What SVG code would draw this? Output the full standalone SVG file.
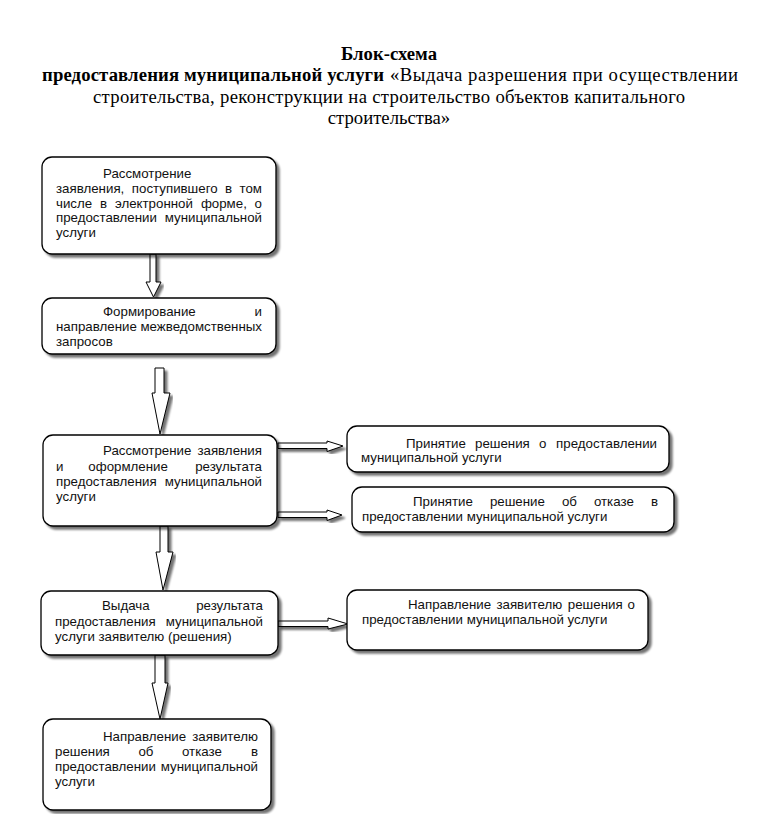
<svg xmlns="http://www.w3.org/2000/svg" width="759" height="814" viewBox="0 0 759 814">
<defs>
<filter id="sh" x="-10%" y="-10%" width="125%" height="130%">
<feGaussianBlur in="SourceAlpha" stdDeviation="1.2"/>
<feOffset dx="2.5" dy="2.5" result="o"/>
<feComponentTransfer><feFuncA type="linear" slope="0.55"/></feComponentTransfer>
<feMerge><feMergeNode/><feMergeNode in="SourceGraphic"/></feMerge>
</filter>
</defs>
<style>
.box{fill:#fff;stroke:#000;stroke-width:1.3;filter:url(#sh)}
.arr{fill:#fff;stroke:#000;stroke-width:1;filter:url(#sh)}
.t{font-family:"Liberation Sans",Arial,sans-serif;font-size:13.3px;fill:#111}
.e{text-anchor:end}
.h{font-family:"Liberation Serif","Times New Roman",serif;font-size:18.7px;fill:#000}
.b{font-weight:bold}
.c{text-anchor:middle}
</style>
<rect width="759" height="814" fill="#fff"/>
<g id="title">
<text class="h b c" x="389" y="60">Блок-схема</text>
<text class="h b" x="42" y="81" textLength="342" lengthAdjust="spacing">предоставления муниципальной услуги</text>
<text class="h" x="390" y="81" textLength="348" lengthAdjust="spacing">«Выдача разрешения при осуществлении</text>
<text class="h c" x="389" y="103" textLength="592" lengthAdjust="spacing">строительства, реконструкции на строительство объектов капитального</text>
<text class="h c" x="389" y="124">строительства»</text>
</g>
<g id="connectors">
<polygon class="arr" points="150,254 156,254 156,282 161,282 153.5,297 146,282 150,282"/>
<polygon class="arr" points="155,368 164,368 164,393 170,393 160,434 152,393 155,393"/>
<polygon class="arr" points="160,526 168,526 168,552 173,552 163,590 156,552 160,552"/>
<polygon class="arr" points="155,655 165,655 165,683 168,683 160,719 152,683 155,683"/>
<polygon class="arr" points="278,443 327,443 327,441 343,446 327,451.5 327,448.5 278,448.5"/>
<polygon class="arr" points="278,512 327,512 327,510 342,515 327,520.5 327,517.5 278,517.5"/>
<polygon class="arr" points="278,621 328,621 328,618 348,624 328,629 328,626.5 278,626.5"/>
</g>
<g id="n1">
<rect class="box" x="42" y="157" width="234" height="97" rx="10"/>
<text class="t" x="103" y="178">Рассмотрение</text>
<text class="t" y="193"><tspan x="56">заявления,</tspan><tspan x="131.8">поступившего</tspan><tspan x="225">в</tspan></text>
<text class="t e" x="262" y="193">том</text>
<text class="t" y="208"><tspan x="56">числе</tspan><tspan x="100">в</tspan><tspan x="114.9">электронной</tspan><tspan x="200.9">форме,</tspan></text>
<text class="t e" x="262" y="208">о</text>
<text class="t" x="56" y="222">предоставлении</text>
<text class="t e" x="262" y="222">муниципальной</text>
<text class="t" x="56" y="237">услуги</text>
</g>
<g id="n2">
<rect class="box" x="42" y="298" width="234" height="56" rx="10"/>
<text class="t" x="103" y="316">Формирование</text>
<text class="t e" x="262" y="316">и</text>
<text class="t" x="56" y="331">направление</text>
<text class="t e" x="262" y="331">межведомственных</text>
<text class="t" x="56" y="346">запросов</text>
</g>
<g id="n3">
<rect class="box" x="43" y="435" width="234" height="91" rx="10"/>
<text class="t" x="103" y="455">Рассмотрение</text>
<text class="t e" x="262" y="455">заявления</text>
<text class="t" y="471"><tspan x="56">и</tspan><tspan x="88.3">оформление</tspan></text>
<text class="t e" x="262" y="471">результата</text>
<text class="t" x="56" y="486">предоставления</text>
<text class="t e" x="262" y="486">муниципальной</text>
<text class="t" x="56" y="501">услуги</text>
</g>
<g id="n4">
<rect class="box" x="347" y="426" width="322" height="46" rx="10"/>
<text class="t" y="448"><tspan x="406">Принятие</tspan><tspan x="475">решения</tspan><tspan x="538.9">о</tspan></text>
<text class="t e" x="657" y="448">предоставлении</text>
<text class="t" x="361" y="462">муниципальной услуги</text>
</g>
<g id="n5">
<rect class="box" x="352" y="487" width="322" height="45" rx="10"/>
<text class="t" y="506"><tspan x="413">Принятие</tspan><tspan x="489.9">решение</tspan><tspan x="561.9">об</tspan><tspan x="593.9">отказе</tspan></text>
<text class="t e" x="658" y="506">в</text>
<text class="t" x="362" y="521">предоставлении муниципальной услуги</text>
</g>
<g id="n6">
<rect class="box" x="41" y="591" width="237" height="64" rx="10"/>
<text class="t" x="102" y="610">Выдача</text>
<text class="t e" x="263" y="610">результата</text>
<text class="t" x="55" y="626">предоставления</text>
<text class="t e" x="263" y="626">муниципальной</text>
<text class="t" x="55" y="641">услуги заявителю (решения)</text>
</g>
<g id="n7">
<rect class="box" x="347" y="590" width="301" height="60" rx="10"/>
<text class="t" y="609"><tspan x="408">Направление</tspan><tspan x="496.4">заявителю</tspan><tspan x="567.8">решения</tspan></text>
<text class="t e" x="635" y="609">о</text>
<text class="t" x="362" y="624">предоставлении муниципальной услуги</text>
</g>
<g id="n8">
<rect class="box" x="43" y="719" width="228" height="91" rx="10"/>
<text class="t" x="103" y="741">Направление</text>
<text class="t e" x="258" y="741">заявителю</text>
<text class="t" y="756"><tspan x="55">решения</tspan><tspan x="138.4">об</tspan><tspan x="182">отказе</tspan></text>
<text class="t e" x="258" y="756">в</text>
<text class="t" x="55" y="771">предоставлении</text>
<text class="t e" x="258" y="771">муниципальной</text>
<text class="t" x="55" y="786">услуги</text>
</g>
</svg>
